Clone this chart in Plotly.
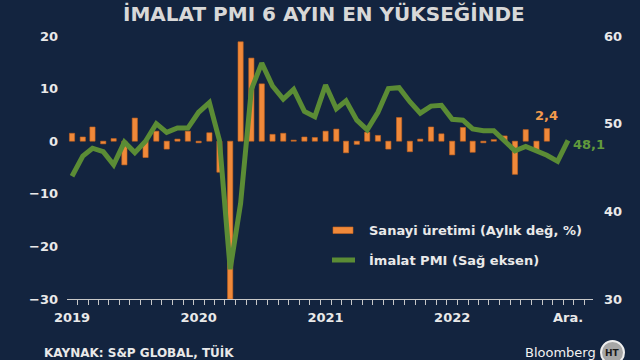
import pandas as pd
import plotly.graph_objects as go

# ---------------- data ----------------
pmi_months = pd.date_range("2019-01-01", "2022-12-01", freq="MS")
ip_months = pd.date_range("2019-01-01", "2022-10-01", freq="MS")

ip_mom = [
    1.5, 0.8, 2.7, -0.5, 0.5, -4.5, 4.4, -3.1, 1.9, -1.5, 0.4, 1.9,      # 2019
    -0.3, 1.6, -5.9, -30.0, 18.9, 15.8, 10.9, 1.3, 1.5, 0.2, 0.8, 0.7,   # 2020
    1.9, 2.3, -2.2, -0.6, 1.7, 1.1, -1.5, 4.5, -2.0, 0.4, 2.7, 1.4,      # 2021
    -2.6, 2.6, -2.1, -0.3, 0.3, 1.0, -6.3, 2.2, -1.8, 2.4,               # 2022
]
pmi = [
    44.0, 46.3, 47.2, 46.8, 45.3, 47.9, 46.7, 48.0, 50.0, 49.0, 49.5, 49.5,
    51.3, 52.4, 48.1, 33.4, 40.9, 53.9, 56.9, 54.3, 52.8, 53.9, 51.4, 50.8,
    54.4, 51.7, 52.6, 50.4, 49.3, 51.3, 54.0, 54.1, 52.5, 51.2, 52.0, 52.1,
    50.5, 50.4, 49.4, 49.2, 49.2, 48.1, 46.9, 47.4, 46.9, 46.4, 45.7, 48.1,
]
x_tick_dates = ["2019-01-01", "2020-01-01", "2021-01-01", "2022-01-01", "2022-12-01"]
x_tick_labels = ["2019", "2020", "2021", "2022", "Ara."]
left_ticks = [-30, -20, -10, 0, 10, 20]
right_ticks = [30, 40, 50, 60]

title_text = "İMALAT PMI 6 AYIN EN YÜKSEĞİNDE"
ip_name = "Sanayi üretimi (Aylık değ, %)"
pmi_name = "İmalat PMI (Sağ eksen)"
source_text = "KAYNAK: S&P GLOBAL, TÜİK"

# ---------------- style ----------------
BG = "#13243f"
ORANGE = "#f0893a"
GREEN = "#5b8c35"
TXT = "#e9e9e9"
FONT = "DejaVu Sans"

W, H = 640, 360
ML, MR, MT, MB = 67, 47, 36, 61
PW, PH = W - ML - MR, H - MT - MB


def px(x):
    return (x - ML) / PW


def py(y):
    return (H - MB - y) / PH


fig = go.Figure()
fig.add_trace(go.Bar(
    x=ip_months, y=ip_mom, name=ip_name,
    marker=dict(color=ORANGE, line=dict(color="#c9641f", width=0.6)),
    width=15 * 86400000, yaxis="y", showlegend=False,
))
fig.add_trace(go.Scatter(
    x=pmi_months, y=pmi, name=pmi_name, mode="lines",
    line=dict(color=GREEN, width=5), yaxis="y2", showlegend=False,
))

fig.update_layout(
    width=W, height=H,
    margin=dict(l=ML, r=MR, t=MT, b=MB),
    paper_bgcolor=BG, plot_bgcolor=BG,
    font=dict(family=FONT, color=TXT, size=13),
    showlegend=False,
    title=dict(text=title_text, x=0.506, xanchor="center", xref="container",
               y=1 - 14 / H, yanchor="middle", yref="container",
               font=dict(family=FONT, size=20, color="#d8d8d8", weight="bold")),
    xaxis=dict(
        type="date", range=["2018-12-17 12:00", "2023-02-11"],
        tickvals=x_tick_dates, ticktext=x_tick_labels,
        ticks="", showgrid=False, zeroline=False,
        showline=True, linecolor="#c8c8c8", linewidth=1,
        tickfont=dict(family=FONT, size=13, color=TXT, weight="bold"),
        ticklabelstandoff=6,
        minor=dict(ticks="outside", ticklen=5, tickcolor="#c8c8c8", tickwidth=1,
                   tick0="2018-12-17", dtick="M1", showgrid=False),
    ),
    yaxis=dict(
        range=[-30, 20], tickvals=left_ticks, ticks="",
        showgrid=False, zeroline=False, showline=False,
        tickfont=dict(family=FONT, size=13, color=TXT, weight="bold"),
        ticklabelstandoff=8,
    ),
    yaxis2=dict(
        range=[30, 60], tickvals=right_ticks, ticks="", overlaying="y", side="right",
        showgrid=False, zeroline=False, showline=False,
        tickfont=dict(family=FONT, size=13, color=TXT, weight="bold"),
        ticklabelstandoff=10,
    ),
)

# value labels
fig.add_annotation(x=ip_months[-1], y=ip_mom[-1], xref="x", yref="y",
                   text=f"{ip_mom[-1]:.1f}".replace(".", ","), showarrow=False,
                   yanchor="bottom", yshift=4,
                   font=dict(family=FONT, size=13, color="#f39a4c", weight="bold"))
fig.add_annotation(x=pmi_months[-1], y=pmi[-1], xref="x", yref="y2",
                   text=f"{pmi[-1]:.1f}".replace(".", ","), showarrow=False,
                   xanchor="left", xshift=3, yshift=-4,
                   font=dict(family=FONT, size=13, color="#619a3c", weight="bold"))

# custom legend
fig.add_shape(type="rect", xref="paper", yref="paper",
              x0=px(333), x1=px(353), y0=py(233.5), y1=py(227),
              fillcolor=ORANGE, line=dict(color="#c9641f", width=0.6))
fig.add_shape(type="line", xref="paper", yref="paper",
              x0=px(332), x1=px(355), y0=py(260), y1=py(260),
              line=dict(color=GREEN, width=5))
for txt, yy in [(ip_name, 230), (pmi_name, 260)]:
    fig.add_annotation(x=px(367), y=py(yy), xref="paper", yref="paper",
                       text=txt, showarrow=False, xanchor="left", yanchor="middle",
                       font=dict(family=FONT, size=13, color=TXT, weight="bold"))

# footer
fig.add_annotation(x=px(42), y=py(352), xref="paper", yref="paper",
                   text=source_text, showarrow=False, xanchor="left", yanchor="middle",
                   font=dict(family=FONT, size=12, color=TXT, weight="bold"))
fig.add_annotation(x=px(598), y=py(352), xref="paper", yref="paper",
                   text="Bloomberg", showarrow=False, xanchor="right", yanchor="middle",
                   font=dict(family=FONT, size=13, color="#f2f2f2"))
fig.add_shape(type="circle", xref="paper", yref="paper",
              x0=px(601), x1=px(624), y0=py(364), y1=py(341),
              fillcolor="#a6a6a6", line=dict(color="#eeeeee", width=2))
fig.add_annotation(x=px(612.5), y=py(352.5), xref="paper", yref="paper",
                   text="HT", showarrow=False, xanchor="center", yanchor="middle",
                   font=dict(family=FONT, size=9, color="#1a1a1a", weight="bold"))

fig.write_html(
    "out.html",
    config={"displayModeBar": False},
    post_script="document.body.style.margin='0';document.body.style.overflow='hidden';",
)
